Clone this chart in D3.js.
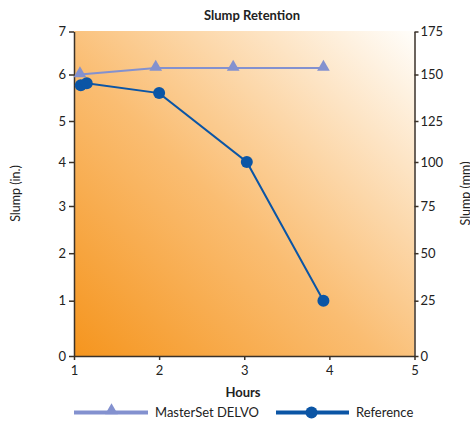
<!DOCTYPE html>
<html>
<head>
<meta charset="utf-8">
<script src="https://cdn.jsdelivr.net/npm/d3@7/dist/d3.min.js"></script>
<style>
	body { margin: 0; background: #fff; }
	svg { display: block; font-family: Lato, "Open Sans", sans-serif; }
</style>
</head>
<body>
<div id="chart"></div>
<script>
// Data
const delvoHours = [1.07, 1.96, 2.87, 3.93];
const delvoSlump = [6.0, 6.15, 6.15, 6.15];
const refHours = [1.08, 1.15, 2.0, 3.03, 3.93];
const refSlump = [5.77, 5.81, 5.6, 4.0, 1.0];
const hourTicks = [1, 2, 3, 4, 5];
const inchTicks = [0, 1, 2, 3, 4, 5, 6, 7];
const mmTicks = [0, 25, 50, 75, 100, 125, 150, 175];
const seriesNames = ['MasterSet DELVO', 'Reference'];

const width = 470, height = 421;
const plot = { left: 74, right: 414.5, top: 31, bottom: 356 };
// the reference's vertical grid is not evenly spaced, so follow its tick rows
const yRows = [356, 300.7, 253.2, 206, 162, 121, 74.5, 31.5];

const colDelvo = '#8391cf';
const colRef = '#0b55a5';
const axisCol = '#3a3128';

const svg = d3.select('#chart').append('svg')
	.attr('width', width)
	.attr('height', height);

// Scales
const x = d3.scaleLinear().domain([1, 5]).range([plot.left, plot.right]);
const yIn = d3.scaleLinear().domain(inchTicks).range(yRows);
const yMm = d3.scaleLinear().domain(mmTicks).range(yRows);

// Background gradient, orange bottom-left to white top-right
const grad = svg.append('defs').append('linearGradient')
	.attr('id', 'bg')
	.attr('x1', 0).attr('y1', 1)
	.attr('x2', 1).attr('y2', 0);
grad.append('stop').attr('offset', '0%').attr('stop-color', '#f5951e');
grad.append('stop').attr('offset', '45%').attr('stop-color', '#fabd72');
grad.append('stop').attr('offset', '100%').attr('stop-color', '#fffefb');

svg.append('rect')
	.attr('x', plot.left).attr('y', plot.top)
	.attr('width', plot.right - plot.left)
	.attr('height', plot.bottom - plot.top)
	.attr('fill', 'url(#bg)');

// Axes
const styleAxis = function(g) {
	g.selectAll('path, line').attr('stroke', axisCol).attr('stroke-width', 1.5);
	g.selectAll('text').attr('fill', '#222').style('font-size', '13px').style('font-family', 'Lato, sans-serif');
};

svg.append('g')
	.attr('transform', 'translate(0,' + plot.bottom + ')')
	.call(d3.axisBottom(x).tickValues(hourTicks).tickFormat(d3.format('d')).tickSizeInner(4).tickSizeOuter(0).tickPadding(6))
	.call(styleAxis);

svg.append('g')
	.attr('transform', 'translate(' + plot.left + ',0)')
	.call(d3.axisLeft(yIn).tickValues(inchTicks).tickFormat(d3.format('d')).tickSizeInner(5).tickSizeOuter(0).tickPadding(3))
	.call(styleAxis);

svg.append('g')
	.attr('transform', 'translate(' + plot.right + ',0)')
	.call(d3.axisRight(yMm).tickValues(mmTicks).tickFormat(d3.format('d')).tickSizeInner(4).tickSizeOuter(0).tickPadding(2))
	.call(styleAxis);

// Titles
svg.append('text')
	.attr('x', 252).attr('y', 20)
	.attr('text-anchor', 'middle')
	.style('font-size', '13px').style('font-weight', 'bold')
	.attr('fill', '#222')
	.text('Slump Retention');

svg.append('text')
	.attr('x', 243).attr('y', 397)
	.attr('text-anchor', 'middle')
	.style('font-size', '13px').style('font-weight', 'bold')
	.attr('fill', '#222')
	.text('Hours');

svg.append('text')
	.attr('transform', 'translate(20,' + (plot.top + plot.bottom) / 2 + ') rotate(-90)')
	.attr('text-anchor', 'middle')
	.style('font-size', '12.5px')
	.attr('fill', '#222')
	.text('Slump (in.)');

svg.append('text')
	.attr('transform', 'translate(470,' + (plot.top + plot.bottom) / 2 + ') rotate(-90)')
	.attr('text-anchor', 'middle')
	.style('font-size', '12.5px')
	.attr('fill', '#222')
	.text('Slump (mm)');

// Series
const delvoData = delvoHours.map((h, i) => [h, delvoSlump[i]]);
const refData = refHours.map((h, i) => [h, refSlump[i]]);
const line = d3.line().x(d => x(d[0])).y(d => yIn(d[1]));
const triangle = d3.symbol().type(d3.symbolTriangle).size(70);

svg.append('path')
	.datum(delvoData)
	.attr('d', line)
	.attr('fill', 'none')
	.attr('stroke', colDelvo)
	.attr('stroke-width', 2);

svg.selectAll('path.tri')
	.data(delvoData)
	.join('path')
	.attr('class', 'tri')
	.attr('d', triangle)
	.attr('transform', d => 'translate(' + x(d[0]) + ',' + (yIn(d[1]) - 1) + ')')
	.attr('fill', colDelvo);

svg.append('path')
	.datum(refData)
	.attr('d', line)
	.attr('fill', 'none')
	.attr('stroke', colRef)
	.attr('stroke-width', 2);

svg.selectAll('circle.ref')
	.data(refData)
	.join('circle')
	.attr('class', 'ref')
	.attr('cx', d => x(d[0]))
	.attr('cy', d => yIn(d[1]))
	.attr('r', 6)
	.attr('fill', colRef);

// Legend
const legendY = 412.5;
const legend = svg.append('g');

legend.append('line')
	.attr('x1', 74).attr('x2', 148)
	.attr('y1', legendY).attr('y2', legendY)
	.attr('stroke', colDelvo).attr('stroke-width', 4);
legend.append('path')
	.attr('d', triangle)
	.attr('transform', 'translate(111.5,' + (legendY - 2) + ')')
	.attr('fill', colDelvo);
legend.append('text')
	.attr('x', 155).attr('y', legendY + 4.5)
	.style('font-size', '13px').attr('fill', '#222')
	.text(seriesNames[0]);

legend.append('line')
	.attr('x1', 276).attr('x2', 349)
	.attr('y1', legendY).attr('y2', legendY)
	.attr('stroke', colRef).attr('stroke-width', 4);
legend.append('circle')
	.attr('cx', 311.5).attr('cy', legendY)
	.attr('r', 6)
	.attr('fill', colRef);
legend.append('text')
	.attr('x', 356).attr('y', legendY + 4.5)
	.style('font-size', '13px').attr('fill', '#222')
	.text(seriesNames[1]);
</script>
</body>
</html>
